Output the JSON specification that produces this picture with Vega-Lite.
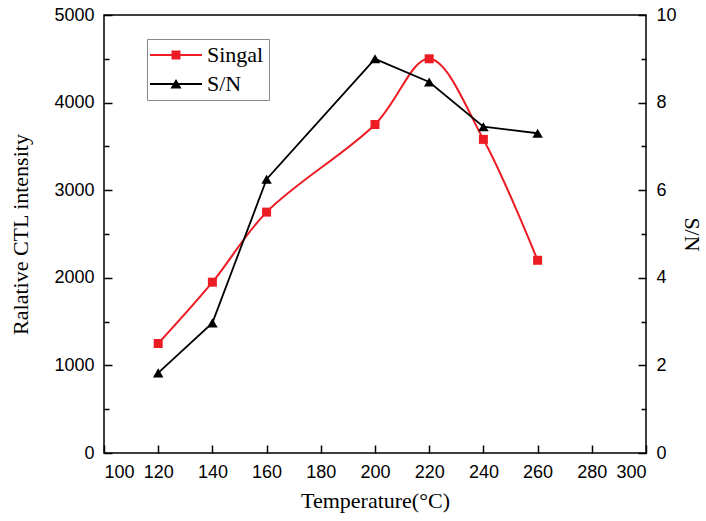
{
  "$schema": "https://vega.github.io/schema/vega-lite/v6.json",
  "width": 542,
  "height": 438,
  "autosize": {"type": "none"},
  "padding": {"left": 104, "top": 15, "right": 60, "bottom": 68},
  "background": "white",
  "config": {
    "view": {"stroke": "#000", "strokeWidth": 1.5},
    "axis": {
      "grid": false,
      "domain": false,
      "ticks": true,
      "tickSize": 8,
      "offset": -8,
      "tickColor": "#000",
      "tickWidth": 1.5,
      "labelFont": "Liberation Sans",
      "labelFontSize": 18,
      "labelColor": "#000",
      "titleFont": "Liberation Serif",
      "titleFontSize": 22,
      "titleFontWeight": "normal",
      "titleColor": "#000"
    }
  },
  "data": {
    "values": [
      {"t": 120, "signal": 1250, "sn": 1.83},
      {"t": 140, "signal": 1950, "sn": 2.97},
      {"t": 160, "signal": 2750, "sn": 6.25},
      {"t": 200, "signal": 3750, "sn": 9.0},
      {"t": 220, "signal": 4500, "sn": 8.47},
      {"t": 240, "signal": 3580, "sn": 7.45},
      {"t": 260, "signal": 2200, "sn": 7.3}
    ]
  },
  "layer": [
    {
      "layer": [
        {
          "mark": {"type": "line", "color": "#ec1c24", "strokeWidth": 2, "interpolate": "catmull-rom"},
          "encoding": {
            "x": {
              "field": "t", "type": "quantitative",
              "scale": {"domain": [100, 300], "nice": false, "zero": false},
              "axis": {
                "values": [100, 120, 140, 160, 180, 200, 220, 240, 260, 280, 300],
                "format": "d",
                "labelPadding": 10,
                "title": "Temperature(°C)",
                "titlePadding": 9
              }
            },
            "y": {
              "field": "signal", "type": "quantitative",
              "scale": {"domain": [0, 5000], "nice": false},
              "axis": {
                "orient": "left",
                "values": [0, 500, 1000, 1500, 2000, 2500, 3000, 3500, 4000, 4500, 5000],
                "format": "d",
                "labelExpr": "datum.value % 1000 === 0 ? datum.label : ''",
                "tickDash": {"condition": {"test": "datum.value % 1000 !== 0", "value": [0, 3, 5, 0]}, "value": []},
                "labelPadding": 10,
                "title": "Ralative CTL intensity",
                "titlePadding": 21
              }
            }
          }
        },
        {
          "mark": {"type": "point", "shape": "square", "filled": true, "color": "#ec1c24", "size": 81, "opacity": 1},
          "encoding": {
            "x": {"field": "t", "type": "quantitative"},
            "y": {"field": "signal", "type": "quantitative"}
          }
        },
        {
          "data": {"values": [{"series": "Singal"}, {"series": "S/N"}]},
          "mark": {"type": "point", "filled": true, "opacity": 0},
          "encoding": {
            "color": {
              "field": "series", "type": "nominal",
              "scale": {"domain": ["Singal", "S/N"], "range": ["#ec1c24", "#000000"]},
              "legend": {
                "title": null,
                "orient": "none",
                "legendX": 43,
                "legendY": 24,
                "symbolSize": 400,
                "symbolOpacity": 1,
                "symbolOffset": 13,
                "symbolStrokeWidth": 0,
                "labelOffset": 20,
                "padding": 5,
                "rowPadding": 7,
                "labelFont": "Liberation Serif",
                "labelFontSize": 22,
                "labelColor": "#000",
                "strokeColor": "#888",
                "fillColor": "white",
                "encode": {"symbols": {"update": {"opacity": {"value": 1}, "fillOpacity": {"value": 1}}}}
              }
            },
            "shape": {
              "field": "series", "type": "nominal",
              "scale": {
                "domain": ["Singal", "S/N"],
                "range": [
                  "M-2.6,-0.1H2.6V0.1H-2.6Z M-0.45,-0.45H0.45V0.45H-0.45Z",
                  "M-2.6,-0.1H2.6V0.1H-2.6Z M0,-0.5L0.55,0.45H-0.55Z"
                ]
              }
            }
          }
        }
      ]
    },
    {
      "layer": [
        {
          "mark": {"type": "line", "color": "#000", "strokeWidth": 1.8},
          "encoding": {
            "x": {"field": "t", "type": "quantitative"},
            "y": {
              "field": "sn", "type": "quantitative",
              "scale": {"domain": [0, 10], "nice": false},
              "axis": {
                "orient": "right",
                "values": [0, 1, 2, 3, 4, 5, 6, 7, 8, 9, 10],
                "format": "d",
                "labelExpr": "datum.value % 2 === 0 ? datum.label : ''",
                "tickDash": {"condition": {"test": "datum.value % 2 !== 0", "value": [0, 3, 5, 0]}, "value": []},
                "labelPadding": 10,
                "title": "S/N",
                "titlePadding": 3
              }
            }
          }
        },
        {
          "mark": {"type": "point", "shape": "triangle-up", "filled": true, "color": "#000", "size": 110, "opacity": 1},
          "encoding": {
            "x": {"field": "t", "type": "quantitative"},
            "y": {"field": "sn", "type": "quantitative"}
          }
        }
      ]
    }
  ],
  "resolve": {"scale": {"y": "independent"}}
}
